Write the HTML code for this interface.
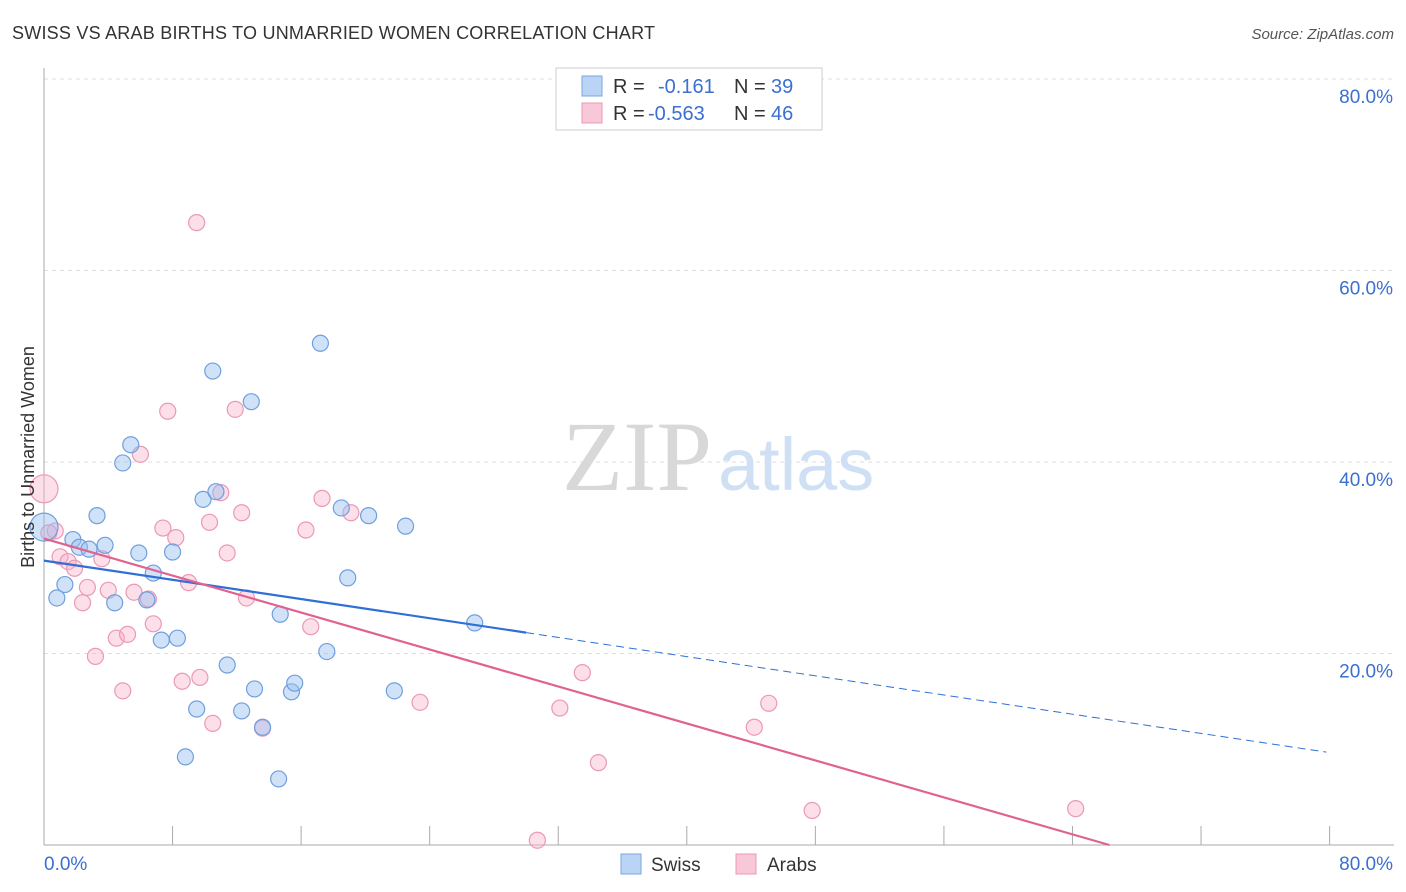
<!DOCTYPE html>
<html><head><meta charset="utf-8"><style>
body{margin:0;background:#fff;font-family:"Liberation Sans",sans-serif}
svg{display:block}
</style></head><body>
<svg width="1406" height="892" xmlns="http://www.w3.org/2000/svg">
<text x="12" y="39" font-size="18" fill="#333" textLength="643">SWISS VS ARAB BIRTHS TO UNMARRIED WOMEN CORRELATION CHART</text>
<text x="1394" y="39" font-size="15" fill="#555" font-style="italic" text-anchor="end">Source: ZipAtlas.com</text>
<g id="grid"></g>
<text x="712" y="490" font-size="100" font-family="Liberation Serif" fill="#d8d8d8" text-anchor="end">ZIP</text>
<text x="718" y="490" font-size="74" fill="#cfe0f5">atlas</text>
<g id="axes"></g>
<g id="marks"></g>
<text x="34" y="457" font-size="18" fill="#333" text-anchor="middle" transform="rotate(-90 34 457)">Births to Unmarried Women</text>
<g>
<rect x="556" y="68" width="266" height="62" fill="#fff" stroke="#ccc"/>
<rect x="582" y="76" width="20" height="20" fill="#b9d4f4" stroke="#7aa6e0"/>
<rect x="582" y="103" width="20" height="20" fill="#f9c8d8" stroke="#eb98b4"/>
<g font-size="20">
<text x="613" y="93" fill="#333">R =</text><text x="658" y="93" fill="#3b6fd0">-0.161</text><text x="734" y="93" fill="#333">N =</text><text x="771" y="93" fill="#3b6fd0">39</text>
</g>
<g font-size="20">
<text x="613" y="120" fill="#333">R =</text><text x="648" y="120" fill="#3b6fd0">-0.563</text><text x="734" y="120" fill="#333">N =</text><text x="771" y="120" fill="#3b6fd0">46</text>
</g>
</g>
<g>
<rect x="621" y="854" width="20" height="20" fill="#b9d4f4" stroke="#7aa6e0"/>
<text x="651" y="871" font-size="19" fill="#333">Swiss</text>
<rect x="736" y="854" width="20" height="20" fill="#f9c8d8" stroke="#eb98b4"/>
<text x="767" y="871" font-size="19" fill="#333">Arabs</text>
</g>
</svg>
<script>
const yTicks=[20,40,60,80];
const yTickLabels=["20.0%","40.0%","60.0%","80.0%"];
const swissX=[0,0.8,1.3,1.8,2.2,2.8,3.3,3.8,4.4,4.9,5.4,5.9,6.4,6.8,7.3,8.0,8.3,8.8,9.5,9.9,10.5,10.7,11.4,12.3,12.9,13.1,13.6,14.6,14.7,15.4,15.6,17.2,17.6,18.5,18.9,20.2,21.8,22.5,26.8];
const swissY=[33.2,25.8,27.2,31.9,31.1,30.9,34.4,31.3,25.3,39.9,41.8,30.5,25.6,28.4,21.4,30.6,21.6,9.2,14.2,36.1,49.5,36.9,18.8,14.0,46.3,16.3,12.3,6.9,24.1,16.0,16.9,52.4,20.2,35.2,27.9,34.4,16.1,33.3,23.2];
const arabX=[0,0.7,1.0,1.5,1.9,2.4,2.7,3.2,3.6,4.0,4.5,4.9,5.2,5.6,6.0,6.5,6.8,7.4,7.7,8.2,8.6,9.0,9.5,9.7,10.3,10.5,11.0,11.4,11.9,12.3,12.6,13.6,16.3,16.6,17.3,19.1,23.4,30.7,32.1,33.5,34.5,44.2,45.1,47.8,64.2,0.3];
const arabY=[37.2,32.8,30.1,29.6,28.9,25.3,26.9,19.7,29.9,26.6,21.6,16.1,22.0,26.4,40.8,25.7,23.1,33.1,45.3,32.1,17.1,27.4,65.0,17.5,33.7,12.7,36.8,30.5,45.5,34.7,25.8,12.2,32.9,22.8,36.2,34.7,14.9,0.5,14.3,18.0,8.6,12.3,14.8,3.6,3.8,32.6];
const swissTrend=[29.7,9.7];
const arabTrend=[32.0,0];
const arabZeroX=66.3;
const NS="http://www.w3.org/2000/svg";
const X=v=>44+v*16.07, Y=v=>845-v*9.575;
function mk(t,a,p){const e=document.createElementNS(NS,t);for(const k in a)e.setAttribute(k,a[k]);p.appendChild(e);return e;}
const grid=document.getElementById('grid'),axes=document.getElementById('axes'),marks=document.getElementById('marks');
yTicks.forEach((t,i)=>{
 const l=mk('line',{x1:44,x2:1394,y1:Y(t),y2:Y(t),stroke:'#ddd','stroke-dasharray':'4,4'},grid);
 
 
 const tx=mk('text',{x:1393,y:Y(t)+24,'font-size':19,fill:'#3b6fd0','text-anchor':'end'},axes);tx.textContent=yTickLabels[i];
 
 
});
mk('line',{x1:44,x2:44,y1:68,y2:845,stroke:'#aaa'},axes);
mk('line',{x1:44,x2:1394,y1:845,y2:845,stroke:'#aaa'},axes);
for(let i=0;i<=10;i++){const t=mk('line',{x1:X(i*8),x2:X(i*8),y1:826,y2:845,stroke:'#aaa'},axes);
 
 }
let a=mk('text',{x:44,y:870,'font-size':19,fill:'#3b6fd0'},axes);a.textContent='0.0%';


a=mk('text',{x:1393,y:870,'font-size':19,fill:'#3b6fd0','text-anchor':'end'},axes);a.textContent='80.0%';


arabX.forEach((x,i)=>{const c=mk('circle',{cx:X(x),cy:Y(arabY[i]),r:i==0?14:8,fill:'rgba(247,176,201,0.4)',stroke:'#eb98b4','stroke-width':1.2},marks);
 
 });
swissX.forEach((x,i)=>{const c=mk('circle',{cx:X(x),cy:Y(swissY[i]),r:i==0?14:8,fill:'rgba(150,190,240,0.45)',stroke:'#6f9fdf','stroke-width':1.2},marks);
 
 });
const sy=x=>swissTrend[0]+(swissTrend[1]-swissTrend[0])*x/79.8;
let ln=mk('line',{x1:X(0),y1:Y(sy(0)),x2:X(30),y2:Y(sy(30)),stroke:'#2f6fd6','stroke-width':2.2},marks);


ln=mk('line',{x1:X(30),y1:Y(sy(30)),x2:X(79.8),y2:Y(sy(79.8)),stroke:'#2f6fd6','stroke-width':1,'stroke-dasharray':'8,5'},marks);


ln=mk('line',{x1:X(0),y1:Y(arabTrend[0]),x2:X(arabZeroX),y2:Y(arabTrend[1]),stroke:'#e0628f','stroke-width':2.2},marks);


</script>
</body></html>
